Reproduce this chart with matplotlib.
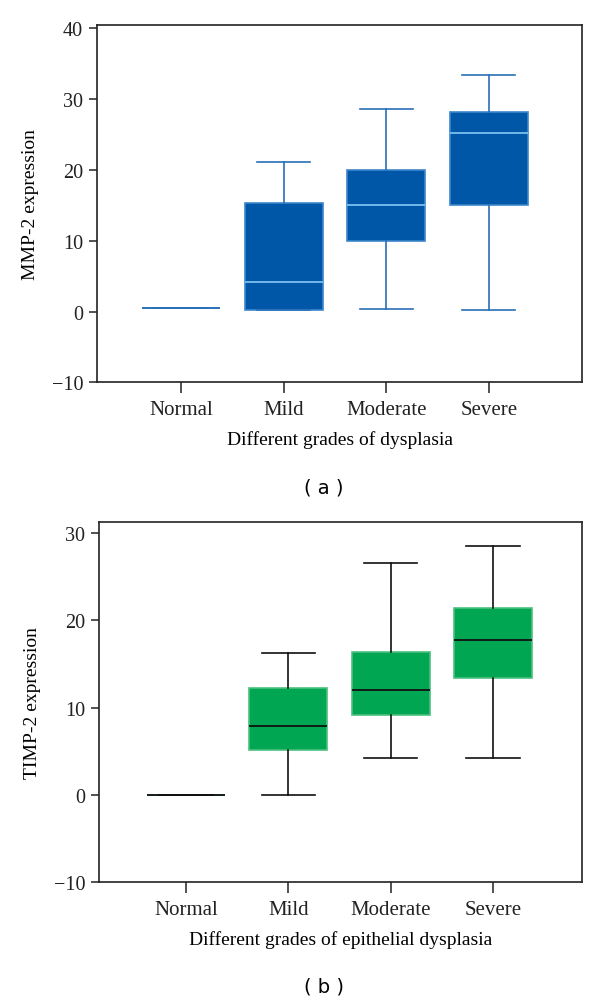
import matplotlib
matplotlib.use("Agg")
from matplotlib import pyplot as plt

grades = ["Normal", "Mild", "Moderate", "Severe"]

# MMP-2 expression: whisker low, Q1, median, Q3, whisker high
mmp_low = [0.5, 0.25, 0.3, 0.15]
mmp_q1 = [0.5, 0.25, 10.0, 15.1]
mmp_med = [0.5, 4.15, 15.1, 25.2]
mmp_q3 = [0.5, 15.3, 20.0, 28.25]
mmp_high = [0.5, 21.1, 28.6, 33.4]

# TIMP-2 expression
timp_low = [0.0, 0.0, 4.2, 4.25]
timp_q1 = [0.0, 5.13, 9.2, 13.36]
timp_med = [0.0, 7.9, 12.0, 17.8]
timp_q3 = [0.0, 12.25, 16.4, 21.4]
timp_high = [0.0, 16.3, 26.6, 28.5]

serif = ["Liberation Serif", "DejaVu Serif"]


def make_stats(low, q1, med, q3, high):
    return [dict(whislo=a, q1=b, med=c, q3=d, whishi=e, fliers=[])
            for a, b, c, d, e in zip(low, q1, med, q3, high)]


def panel(ax, stats, face, edge, medcol, whiscol, ylim, yticks, ylabel, xlabel, xlim):
    res = ax.bxp(stats, positions=[1, 2, 3, 4], widths=0.76, patch_artist=True,
                 showfliers=False,
                 boxprops=dict(facecolor=face, edgecolor=edge, linewidth=1.2),
                 medianprops=dict(color=medcol, linewidth=1.3),
                 whiskerprops=dict(color=whiscol, linewidth=1.2),
                 capprops=dict(color=whiscol, linewidth=1.2),
                 capwidths=0.52)
    # the collapsed Normal box shows as a single whisker-coloured line
    res["medians"][0].set_color(whiscol)
    ax.set_xlim(*xlim)
    ax.set_ylim(*ylim)
    ax.set_yticks(yticks)
    ax.set_yticklabels([str(t).replace("-", "\u2212") for t in yticks], family=serif, fontsize=14.5)
    ax.set_xticks([1, 2, 3, 4])
    ax.set_xticklabels(grades, family=serif, fontsize=15)
    ax.tick_params(axis="y", direction="out", length=6, width=1.1, pad=4, colors="#222222")
    ax.tick_params(axis="x", direction="out", length=8, width=1.1, pad=5, colors="#222222")
    for s in ax.spines.values():
        s.set_color("#222222")
        s.set_linewidth(1.2)
    ax.set_ylabel(ylabel, family=serif, fontsize=14, labelpad=9)
    ax.set_xlabel(xlabel, family=serif, fontsize=14, labelpad=8)


fig = plt.figure(figsize=(6.0, 10.03), dpi=100)

ax1 = fig.add_axes([0.1617, 0.6178, 0.8083, 0.3562])
panel(ax1, make_stats(mmp_low, mmp_q1, mmp_med, mmp_q3, mmp_high),
      "#0057a8", "#3d86cc", "#7cc0f0", "#2a70b8",
      (-10, 40.47), [-10, 0, 10, 20, 30, 40],
      "MMP-2 expression", "Different grades of dysplasia", (0.18, 4.91))

ax2 = fig.add_axes([0.165, 0.1199, 0.805, 0.3589])
panel(ax2, make_stats(timp_low, timp_q1, timp_med, timp_q3, timp_high),
      "#00a651", "#4cc07f", "#111111", "#111111",
      (-10, 31.33), [-10, 0, 10, 20, 30],
      "TIMP-2 expression", "Different grades of epithelial dysplasia", (0.15, 4.87))

fig.text(0.54, 1 - 488 / 1003, "( a )", ha="center", va="center", fontsize=14, family="DejaVu Sans")
fig.text(0.54, 1 - 987 / 1003, "( b )", ha="center", va="center", fontsize=14, family="DejaVu Sans")

fig.savefig("out.png", dpi=100)
